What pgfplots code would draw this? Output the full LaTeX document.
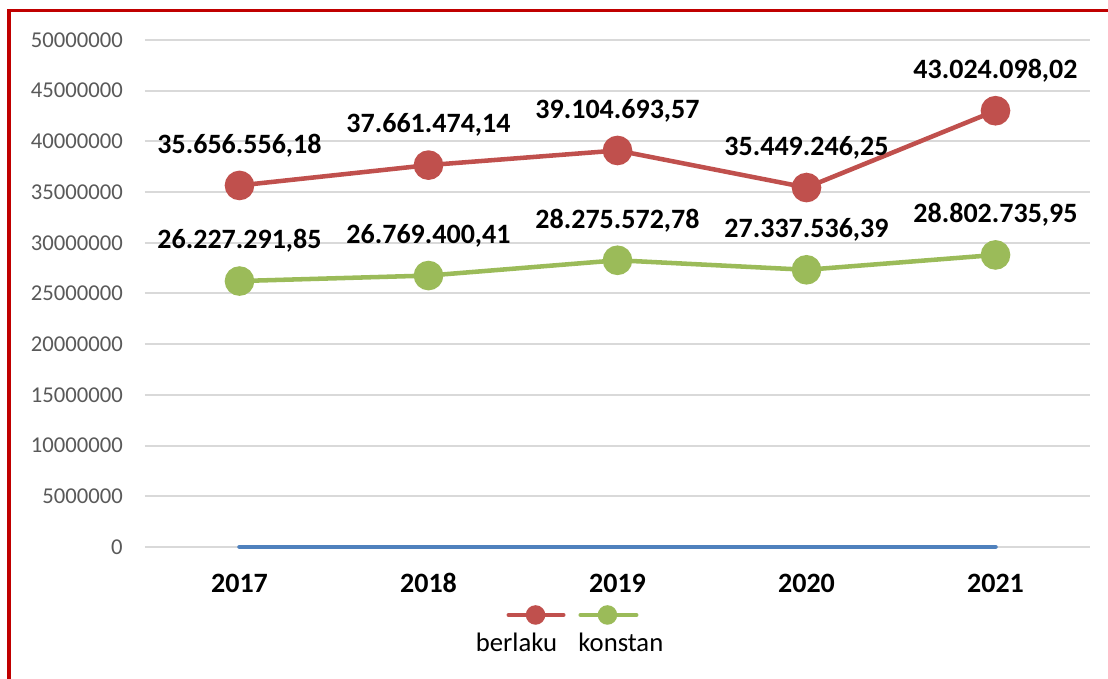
\documentclass[border=0pt]{standalone}
\usepackage{pgfplots}
\pgfplotsset{compat=1.18}
\usepackage{pgfplotstable}
\usepackage{fontspec}
\setmainfont{Carlito}
\definecolor{cred}{HTML}{C0504D}
\definecolor{cgreen}{HTML}{9BBB59}
\definecolor{cblue}{HTML}{4F81BD}
\definecolor{cgrid}{HTML}{D9D9D9}
\definecolor{ctick}{HTML}{595959}
\definecolor{cframe}{HTML}{C00000}

\pgfplotstableread{
x y label
0 35656556.18 35.656.556,18
1 37661474.14 37.661.474,14
2 39104693.57 39.104.693,57
3 35449246.25 35.449.246,25
4 43024098.02 43.024.098,02
}\berlaku
\pgfplotstableread{
x y label
0 26227291.85 26.227.291,85
1 26769400.41 26.769.400,41
2 28275572.78 28.275.572,78
3 27337536.39 27.337.536,39
4 28802735.95 28.802.735,95
}\konstan
\pgfplotstableread{
x y
0 0
1 0
2 0
3 0
4 0
}\nol

\begin{document}
\begin{tikzpicture}
\useasboundingbox (0,0) rectangle (831pt,509.25pt);
\clip (0,0) rectangle (831pt,509.25pt);
\begin{axis}[
  at={(108.75pt,99pt)}, anchor=south west,
  scale only axis, width=708.75pt, height=380.25pt,
  xmin=-0.5, xmax=4.5, ymin=0, ymax=50000000,
  axis line style={draw=none},
  major tick length=0pt,
  xtick={0,1,2,3,4}, xticklabels={2017,2018,2019,2020,2021},
  ytick={0,5000000,10000000,15000000,20000000,25000000,30000000,35000000,40000000,45000000,50000000},
  ymajorgrids, grid style={cgrid, line width=1.5pt},
  scaled y ticks=false,
  /pgf/number format/assume math mode=true,
  yticklabel={\pgfmathprintnumber[fixed,precision=0,1000 sep={}]{\tick}},
  yticklabel style={font=\fontsize{17}{20}\selectfont, text=ctick, anchor=east, inner sep=0pt, xshift=-16.5pt},
  xticklabel style={font=\fontsize{21}{25}\selectfont\bfseries, anchor=center, inner sep=0pt, yshift=-27pt},
  clip=false,
  every node near coord/.append style={font=\fontsize{21}{25}\selectfont\bfseries, text=black, anchor=center, yshift=30pt},
  legend style={at={(0.438,-0.1893)}, anchor=center, draw=none, fill=none, inner sep=0pt,
    font=\fontsize{20}{24}\selectfont, nodes={inner sep=0pt},
    /tikz/every odd column/.append style={column sep=16pt}},
  legend columns=2,
]
\addplot[cblue, line width=3.4pt, line cap=round, forget plot] table[x=x,y=y]{\nol};
\addplot[cred, line width=3.4pt, mark=*, mark size=9.4pt, mark options={draw=none, fill=cred},
  nodes near coords, point meta=explicit symbolic,
  legend image code/.code={
    \draw[overlay, cred, line width=3pt, line cap=round] (40.5pt,21pt) -- (81.75pt,21pt);
    \fill[overlay, cred] (60.75pt,21pt) circle (5.6pt);
  }] table[x=x,y=y,meta=label]{\berlaku};
\addlegendentry{berlaku}
\addplot[cgreen, line width=3.4pt, mark=*, mark size=9.4pt, mark options={draw=none, fill=cgreen},
  nodes near coords, point meta=explicit symbolic,
  legend image code/.code={
    \draw[overlay, cgreen, line width=3pt, line cap=round] (17.5pt,21pt) -- (59.5pt,21pt);
    \fill[overlay, cgreen] (37.75pt,21pt) circle (5.6pt);
  }] table[x=x,y=y,meta=label]{\konstan};
\addlegendentry{konstan}
\end{axis}
\draw[cframe, line width=3pt] (6.75pt,-10pt) -- (6.75pt,502.4pt);
\draw[cframe, line width=2.25pt] (5.25pt,501.4pt) -- (900pt,501.4pt);
\end{tikzpicture}
\end{document}
